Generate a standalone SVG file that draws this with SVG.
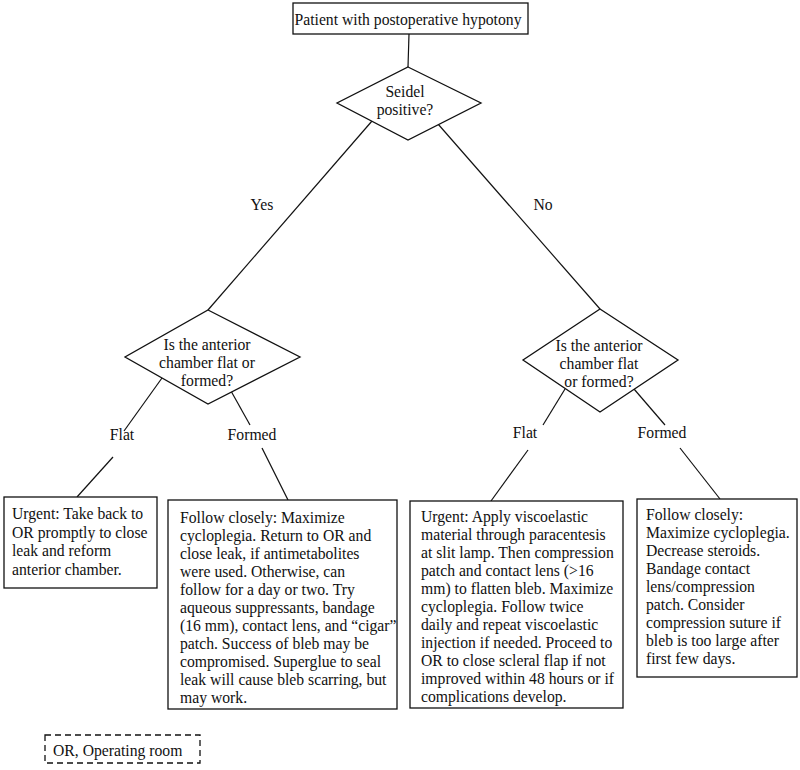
<svg xmlns="http://www.w3.org/2000/svg" width="800" height="770" viewBox="0 0 800 770">
<style>
text{font-family:"Liberation Serif","Times New Roman",serif;font-size:15.7px;fill:#111}
.c{text-anchor:middle}
.box{fill:#fff;stroke:#111;stroke-width:1.3}
.ln{stroke:#111;stroke-width:1.2;fill:none}
.dash{fill:#fff;stroke:#111;stroke-width:1.3;stroke-dasharray:6 4}
</style>
<rect width="800" height="770" fill="#fff"/>
<g id="connectors">
<line class="ln" x1="409" y1="34" x2="408" y2="67"/>
<line class="ln" x1="372" y1="121" x2="208" y2="310"/>
<line class="ln" x1="438" y1="124" x2="600" y2="309"/>
<line class="ln" x1="162" y1="378" x2="124" y2="431"/>
<line class="ln" x1="113" y1="457" x2="77" y2="497"/>
<line class="ln" x1="231" y1="391" x2="250" y2="425"/>
<line class="ln" x1="262" y1="448" x2="288" y2="500"/>
<line class="ln" x1="565" y1="389" x2="543" y2="425"/>
<line class="ln" x1="528" y1="450" x2="491" y2="501"/>
<line class="ln" x1="634" y1="389" x2="665" y2="425"/>
<line class="ln" x1="680" y1="448" x2="720" y2="499"/>
<text class="c" x="262" y="210">Yes</text>
<text class="c" x="543" y="210">No</text>
<text class="c" x="122" y="440">Flat</text>
<text class="c" x="252" y="440">Formed</text>
<text class="c" x="525" y="438">Flat</text>
<text class="c" x="662" y="438">Formed</text>
</g>
<g id="start">
<rect class="box" x="293" y="3" width="235" height="31"/>
<text class="c" x="408" y="25">Patient with postoperative hypotony</text>
</g>
<g id="seidel">
<polygon class="box" points="408,67 481,103 408,140 337,103"/>
<text class="c" x="405" y="97">Seidel</text>
<text class="c" x="405" y="115">positive?</text>
</g>
<g id="chamber-yes">
<polygon class="box" points="208,310 300,357 208,404 125,357"/>
<text class="c" x="207" y="350">Is the anterior</text>
<text class="c" x="207" y="368">chamber flat or</text>
<text class="c" x="207" y="386">formed?</text>
</g>
<g id="chamber-no">
<polygon class="box" points="600,309 678,360 600,412 523,360"/>
<text class="c" x="599" y="351">Is the anterior</text>
<text class="c" x="599" y="369">chamber flat</text>
<text class="c" x="599" y="387">or formed?</text>
</g>
<g id="yes-flat">
<rect class="box" x="4" y="497" width="153" height="91"/>
<text x="12" y="519">Urgent: Take back to</text>
<text x="12" y="537.5">OR promptly to close</text>
<text x="12" y="556">leak and reform</text>
<text x="12" y="574.5">anterior chamber.</text>
</g>
<g id="yes-formed">
<rect class="box" x="168" y="500" width="229" height="209"/>
<text x="180" y="523">Follow closely: Maximize</text>
<text x="180" y="541">cycloplegia. Return to OR and</text>
<text x="180" y="559">close leak, if antimetabolites</text>
<text x="180" y="577">were used. Otherwise, can</text>
<text x="180" y="595">follow for a day or two. Try</text>
<text x="180" y="613">aqueous suppressants, bandage</text>
<text x="180" y="631">(16 mm), contact lens, and “cigar”</text>
<text x="180" y="649">patch. Success of bleb may be</text>
<text x="180" y="667">compromised. Superglue to seal</text>
<text x="180" y="685">leak will cause bleb scarring, but</text>
<text x="180" y="703">may work.</text>
</g>
<g id="no-flat">
<rect class="box" x="410" y="501" width="213" height="207"/>
<text x="421" y="522">Urgent: Apply viscoelastic</text>
<text x="421" y="540">material through paracentesis</text>
<text x="421" y="558">at slit lamp. Then compression</text>
<text x="421" y="576">patch and contact lens (&gt;16</text>
<text x="421" y="594">mm) to flatten bleb. Maximize</text>
<text x="421" y="612">cycloplegia. Follow twice</text>
<text x="421" y="630">daily and repeat viscoelastic</text>
<text x="421" y="648">injection if needed. Proceed to</text>
<text x="421" y="666">OR to close scleral flap if not</text>
<text x="421" y="684">improved within 48 hours or if</text>
<text x="421" y="702">complications develop.</text>
</g>
<g id="no-formed">
<rect class="box" x="637" y="499" width="160" height="178"/>
<text x="646" y="520">Follow closely:</text>
<text x="646" y="538">Maximize cycloplegia.</text>
<text x="646" y="556">Decrease steroids.</text>
<text x="646" y="574">Bandage contact</text>
<text x="646" y="592">lens/compression</text>
<text x="646" y="610">patch. Consider</text>
<text x="646" y="628">compression suture if</text>
<text x="646" y="646">bleb is too large after</text>
<text x="646" y="664">first few days.</text>
</g>
<g id="legend">
<rect class="dash" x="45" y="735" width="155" height="28"/>
<text x="53" y="756">OR, Operating room</text>
</g>
</svg>
